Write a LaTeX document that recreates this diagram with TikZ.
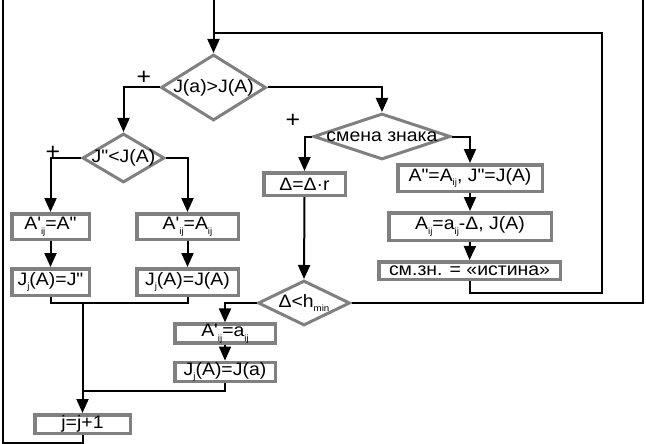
\documentclass[tikz,border=0pt]{standalone}
\usepackage{fontspec}
\setmainfont{Liberation Sans}[FakeStretch=1.08,Ligatures=TeXOff]
\usetikzlibrary{shapes.geometric,arrows.meta}
\definecolor{bordergray}{RGB}{128,128,128}
\newcommand\sbs[1]{\raisebox{-4.5pt}{\fontsize{9}{9}\selectfont #1}}
\newcommand\pr{'}
\begin{document}
\begin{tikzpicture}[x=1pt,y=-1pt,
  every node/.style={font=\fontsize{18}{20}\selectfont},
  procbox/.style={draw=bordergray,line width=3.5pt,rectangle,inner sep=0pt},
  decision/.style={draw=bordergray,line width=3pt,diamond,inner sep=0pt},
  conn/.style={draw=black,line width=2pt},
  arr/.style={conn,-{Triangle[length=14pt,width=12pt]}},
  plussign/.style={inner sep=0pt,font=\fontsize{23}{24}\selectfont}]
\useasboundingbox (0,0) rectangle (646,444);

% decisions
\node[decision,minimum width=105pt,minimum height=66pt] (d1) at (213.5,87.5) {\makebox[0pt]{J(a)>J(A)}};
\node[decision,minimum width=82pt,minimum height=49pt] (d2) at (123.5,158) {\makebox[0pt]{J"<J(A)}};
\node[decision,minimum width=137pt,minimum height=46pt] (d3) at (382,136.5) {\makebox[0pt]{смена знака}};
\node[decision,minimum width=92pt,minimum height=45pt] (d4) at (304,303) {\makebox[0pt]{Δ<h\sbs{min}}};

% plus signs
\node[plussign] (p1) at (144,78) {+};
\node[plussign] (p2) at (53,153) {+};
\node[plussign] (p3) at (293,121) {+};

% process boxes
\node[procbox,minimum width=77.5pt,minimum height=25.5pt] (b1) at (50.5,226.5) {A\pr\sbs{ij}=A"};
\node[procbox,minimum width=101.5pt,minimum height=25.5pt] (b2) at (187.5,226.5) {A\pr\sbs{ij}=A\sbs{ij}};
\node[procbox,minimum width=77.5pt,minimum height=26.5pt] (b3) at (50.5,282) {J\sbs{j}(A)=J"};
\node[procbox,minimum width=101.5pt,minimum height=26.5pt] (b4) at (187.5,282) {J\sbs{j}(A)=J(A)};
\node[procbox,minimum width=95.5pt,minimum height=18.5pt] (b5) at (82.5,424) {j=j+1};
\node[procbox,minimum width=100.5pt,minimum height=18.5pt] (b6) at (225,333.5) {A\pr\sbs{ij}=a\sbs{ij}};
\node[procbox,minimum width=100.5pt,minimum height=18.5pt] (b7) at (225,372) {J\sbs{j}(A)=J(a)};
\node[procbox,minimum width=81.5pt,minimum height=22.5pt] (b8) at (304.5,184) {Δ=Δ·r};
\node[procbox,minimum width=144.5pt,minimum height=26.5pt] (b9) at (470,178) {A"=A\sbs{ij}, J"=J(A)};
\node[procbox,minimum width=162.5pt,minimum height=27.5pt] (b10) at (470,226.5) {A\sbs{ij}=a\sbs{ij}-Δ, J(A)};
\node[procbox,minimum width=181.5pt,minimum height=17.5pt] (b11) at (469.5,270.5) {см.зн. = «истина»};

% free ends / junctions
\coordinate (top) at (213.5,0);
\coordinate (topleft) at (3,0);
\coordinate (topright) at (643,0);
\coordinate (j1) at (213.5,33);
\coordinate (r1) at (602,33);
\coordinate (m1) at (82.5,303);
\coordinate (m2) at (82.5,391);

% connectors
\draw[arr] (top) -- (d1.north);
\draw[arr] (d1.west) -| (d2.north);
\draw[arr] (d1.east) -| (d3.north);
\draw[arr] (d2.west) -| (b1.north);
\draw[arr] (d2.east) -| (b2.north);
\draw[arr] (b1.south) -- (b3.north);
\draw[arr] (b2.south) -- (b4.north);
\draw[conn] (b3.south) |- (m1) -| (b4.south);
\draw[arr] (m1) -- (b5.north);
\draw[conn] (b5.south) -- ++(0,8) -| (topleft);
\draw[arr] (d3.west) -| (b8.north);
\draw[arr] (d3.east) -| (b9.north);
\draw[arr] (b8.south) -- (d4.north);
\draw[arr] (b9.south) -- (b10.north);
\draw[arr] (b10.south) -- (b11.north);
\draw[conn] (b11.south) -- ++(0,12) -| (r1) -- (j1);
\draw[conn] (d4.east) -| (topright);
\draw[arr] (d4.west) -| (b6.north);
\draw[arr] (b6.south) -- (b7.north);
\draw[conn] (b7.south) |- (m2);
\end{tikzpicture}
\end{document}
